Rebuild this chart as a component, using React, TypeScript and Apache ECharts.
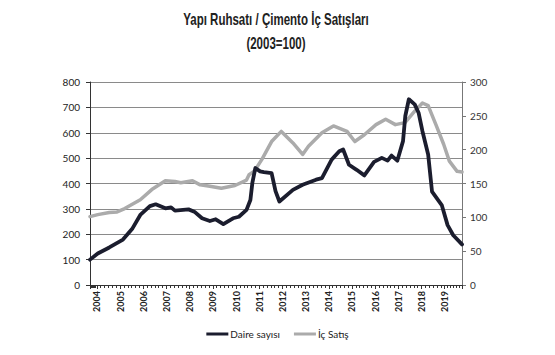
import React, { useEffect, useRef } from "react";
import * as echarts from "echarts";

const titleLines = ["Yapı Ruhsatı / Çimento İç Satışları", "(2003=100)"];
const seriesNames = ["Daire sayısı", "İç Satış"];

const daireDates = [
  "2003-09-15", "2004-01-15", "2004-07-15", "2005-02-15", "2005-07-15", "2005-11-15",
  "2006-04-15", "2006-07-15", "2006-12-15", "2007-03-15", "2007-05-15", "2007-12-15",
  "2008-03-15", "2008-07-15", "2008-11-15", "2009-02-15", "2009-06-15", "2009-11-15",
  "2010-02-15", "2010-06-15", "2010-08-15", "2010-09-15", "2010-11-01", "2011-01-15",
  "2011-03-15", "2011-07-15", "2011-09-15", "2011-11-15", "2012-06-15", "2012-11-15",
  "2013-06-15", "2013-09-15", "2014-02-15", "2014-06-15", "2014-08-15", "2014-11-15",
  "2015-03-15", "2015-07-15", "2015-12-15", "2016-04-15", "2016-07-15", "2016-09-15",
  "2016-12-15", "2017-03-15", "2017-04-20", "2017-06-15", "2017-09-15", "2017-11-15",
  "2018-01-15", "2018-04-15", "2018-06-15", "2018-11-15", "2019-02-15", "2019-05-15",
  "2019-09-30",
];
const daireValues = [
  100, 124, 148, 179, 223, 276,
  311, 318, 302, 306, 293, 298,
  289, 263, 252, 259, 240, 263,
  269, 296, 335, 402, 461, 448,
  445, 441, 370, 329, 375, 395,
  415, 421, 494, 527, 534, 474,
  454, 432, 485, 501, 490, 510,
  490, 567, 666, 732, 712, 679,
  606, 514, 368, 315, 236, 196,
  160,
];

const icDates = [
  "2003-09-15", "2004-01-15", "2004-07-15", "2004-11-15", "2005-03-15", "2005-11-15",
  "2006-05-15", "2006-12-15", "2007-05-15", "2007-08-15", "2008-02-15", "2008-06-15",
  "2008-11-15", "2009-05-15", "2009-12-15", "2010-06-15", "2010-07-25", "2010-10-15",
  "2011-02-15", "2011-07-15", "2011-12-15", "2012-06-15", "2012-11-15", "2013-02-15",
  "2013-09-15", "2014-03-15", "2014-10-15", "2015-02-15", "2015-07-15", "2016-01-15",
  "2016-06-15", "2016-11-15", "2017-04-15", "2017-09-15", "2018-01-15", "2018-04-15",
  "2018-08-15", "2018-12-15", "2019-03-15", "2019-07-15", "2019-09-30",
];
const icValues = [
  101, 104, 107, 108, 113, 126,
  141, 154, 153, 151, 154, 148,
  146, 143, 147, 155, 163, 168,
  186, 212, 227, 210, 193, 205,
  225, 235, 227, 212, 222, 237,
  245, 237, 240, 257, 269, 265,
  237, 208, 183, 168, 167,
];

const axisFont = "Lato, 'Open Sans', sans-serif";
const titleFont = "bold 16px 'Liberation Sans', Arial, sans-serif";

export default function App() {
  const ref = useRef<HTMLDivElement>(null);
  useEffect(() => {
    if (!ref.current) return;
    const chart = echarts.init(ref.current, undefined, { renderer: "svg" });
    const year = 3600 * 24 * 1000 * 365;
    chart.setOption({
      animation: false,
      backgroundColor: "#ffffff",
      graphic: [
        {
          type: "text",
          x: 276,
          y: 19,
          scaleX: 0.72,
          style: {
            text: titleLines[0],
            font: titleFont,
            fill: "#222",
            textAlign: "center",
            textVerticalAlign: "middle",
          },
        },
        {
          type: "text",
          x: 276,
          y: 43,
          scaleX: 0.72,
          style: {
            text: titleLines[1],
            font: titleFont,
            fill: "#222",
            textAlign: "center",
            textVerticalAlign: "middle",
          },
        },
      ],
      legend: {
        data: seriesNames,
        bottom: 11,
        left: "center",
        icon: "rect",
        itemWidth: 22,
        itemHeight: 3,
        itemGap: 14,
        textStyle: { fontFamily: axisFont, fontSize: 10, color: "#222", padding: [0, 0, 0, -3] },
      },
      grid: { left: 90, right: 93, top: 82, bottom: 70, containLabel: false },
      xAxis: {
        type: "time",
        min: "2003-09-15",
        max: "2019-09-30",
        minInterval: year,
        maxInterval: year + 3600 * 24 * 1000,
        axisLine: { show: true, lineStyle: { color: "#333", width: 1 } },
        axisTick: { show: true, length: 4, lineStyle: { color: "#333" } },
        minorTick: { show: true, splitNumber: 6, length: 3, lineStyle: { color: "#333" } },
        splitLine: { show: false },
        axisLabel: {
          rotate: 90,
          formatter: "{yyyy}",
          fontFamily: axisFont,
          fontSize: 9,
          fontWeight: "bold",
          color: "#222",
          margin: 6,
          showMinLabel: false,
          showMaxLabel: false,
        },
      },
      yAxis: [
        {
          type: "value",
          min: 0,
          max: 800,
          interval: 100,
          axisLine: { show: true, lineStyle: { color: "#333" } },
          axisTick: { show: true, length: 4, lineStyle: { color: "#333" } },
          splitLine: { show: true, lineStyle: { color: "#8a8a8a", width: 1 } },
          axisLabel: { fontFamily: axisFont, fontSize: 10, color: "#222", margin: 10 },
        },
        {
          type: "value",
          min: 0,
          max: 300,
          interval: 50,
          position: "right",
          axisLine: { show: true, lineStyle: { color: "#777" } },
          axisTick: { show: true, length: 4, lineStyle: { color: "#777" } },
          splitLine: { show: false },
          axisLabel: { fontFamily: axisFont, fontSize: 10, color: "#333", margin: 8 },
        },
      ],
      series: [
        {
          name: seriesNames[0],
          type: "line",
          yAxisIndex: 0,
          symbol: "none",
          z: 3,
          lineStyle: { color: "#1b1d2e", width: 3.8, join: "round", cap: "round" },
          itemStyle: { color: "#1b1d2e" },
          data: daireDates.map((d, i) => [d, daireValues[i]]),
        },
        {
          name: seriesNames[1],
          type: "line",
          yAxisIndex: 1,
          symbol: "none",
          z: 2,
          lineStyle: { color: "#ababab", width: 3.5, join: "round", cap: "round" },
          itemStyle: { color: "#ababab" },
          data: icDates.map((d, i) => [d, icValues[i]]),
        },
      ],
    });
    return () => chart.dispose();
  }, []);
  return (
    <div
      ref={ref}
      style={{ position: "fixed", left: 0, top: 0, width: 555, height: 355 }}
    />
  );
}
